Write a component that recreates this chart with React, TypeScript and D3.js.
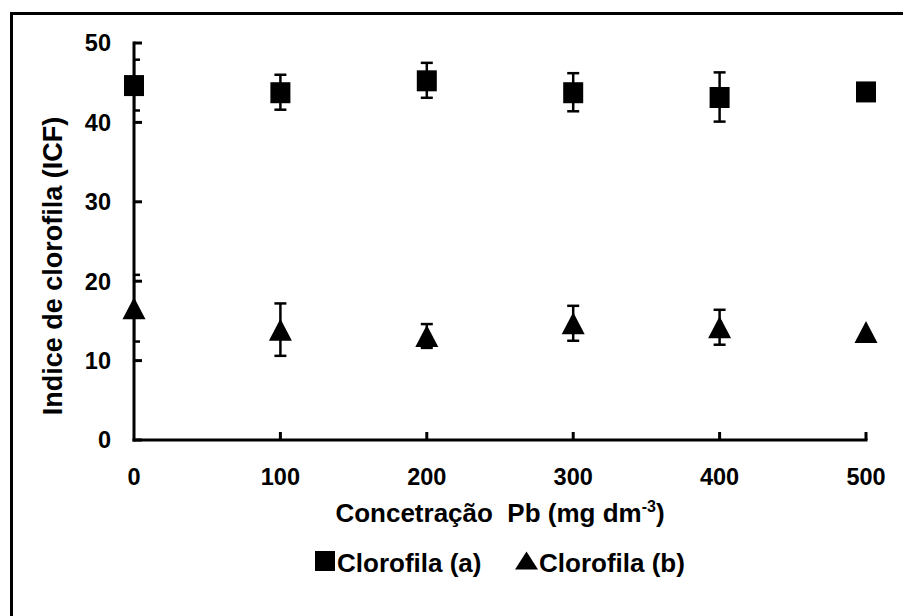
import * as d3 from "d3";
import React from "react";

// concentrations of Pb (mg dm-3)
const doses = [0, 100, 200, 300, 400, 500];
// chlorophyll index, means and error
const clorofilaA = [44.7, 43.8, 45.3, 43.8, 43.2, 43.9];
const erroA = [3.2, 2.2, 2.2, 2.4, 3.1, 0.8];
const clorofilaB = [16.6, 13.9, 13.1, 14.7, 14.2, 13.6];
const erroB = [4.2, 3.3, 1.5, 2.2, 2.2, 0];
const yTicks = [0, 10, 20, 30, 40, 50];
const xTicks = [0, 100, 200, 300, 400, 500];

const W = 903;
const H = 616;
const font = "'Liberation Sans', Arial, sans-serif";

const App = () => {
  const x = d3.scaleLinear().domain([0, 500]).range([134, 866]);
  const y = d3.scaleLinear().domain([0, 50]).range([440, 43]);
  const sq = 20;

  const triPath = (cx: number, cy: number, w: number, h: number) =>
    `M${cx},${cy - h / 2}L${cx + w / 2},${cy + h / 2}L${cx - w / 2},${cy + h / 2}Z`;

  const errBars = (vals: number[], errs: number[], key: string) =>
    vals.map((v, i) => {
      if (!errs[i]) return null;
      const cx = x(doses[i]);
      const top = y(v + errs[i]);
      const bot = y(v - errs[i]);
      return (
        <g key={key + i} stroke="#000" strokeWidth={2.5}>
          <line x1={cx} x2={cx} y1={top} y2={bot} />
          <line x1={cx - 6} x2={cx + 6} y1={top} y2={top} />
          <line x1={cx - 6} x2={cx + 6} y1={bot} y2={bot} />
        </g>
      );
    });

  return (
    <svg
      width={W}
      height={H}
      style={{ position: "absolute", left: 0, top: 0, background: "#fff" }}
      fontFamily={font}
      fontWeight="bold"
    >
      <defs>
        <clipPath id="plot">
          <rect x={x(0)} y={0} width={W} height={y(0)} />
        </clipPath>
      </defs>
      {/* outer frame (only left and top visible) */}
      <path d={`M11.5,${H + 10}V13.5H${W + 10}`} fill="none" stroke="#000" strokeWidth={3} />

      {/* error bars */}
      <g clipPath="url(#plot)">
        {errBars(clorofilaA, erroA, "a")}
        {errBars(clorofilaB, erroB, "b")}
      </g>

      {/* axes */}
      <g stroke="#000" strokeWidth={3}>
        <line x1={x(0)} x2={x(0)} y1={y(50) - 1.5} y2={y(0) + 1.5} />
        <line x1={x(0) - 1.5} x2={x(500) + 1.5} y1={y(0)} y2={y(0)} />
        {yTicks.map((t) => (
          <line key={"yt" + t} x1={x(0)} x2={x(0) + 8} y1={y(t)} y2={y(t)} />
        ))}
        {xTicks.slice(1).map((t) => (
          <line key={"xt" + t} x1={x(t)} x2={x(t)} y1={y(0)} y2={y(0) - 8} />
        ))}
      </g>
      {yTicks.map((t) => (
        <text key={"yl" + t} x={111} y={y(t)} dy="0.36em" textAnchor="end" fontSize={23.5}>
          {t}
        </text>
      ))}
      {xTicks.map((t) => (
        <text key={"xl" + t} x={x(t)} y={485} textAnchor="middle" fontSize={23.5}>
          {t}
        </text>
      ))}

      {/* markers */}
      {clorofilaA.map((v, i) => (
        <rect key={"ma" + i} x={x(doses[i]) - sq / 2} y={y(v) - sq / 2} width={sq} height={sq + 1} fill="#000" />
      ))}
      {clorofilaB.map((v, i) => (
        <path key={"mb" + i} d={triPath(x(doses[i]), y(v), 23, 22)} fill="#000" />
      ))}

      {/* axis titles */}
      <text x={500} y={522} textAnchor="middle" fontSize={26}>
        {"Concetração\u00A0 Pb (mg dm"}
        <tspan dy={-10} fontSize={16}>-3</tspan>
        <tspan dy={10}>)</tspan>
      </text>
      <text transform={`translate(62,${266}) rotate(-90)`} textAnchor="middle" fontSize={27}>
        Indice de clorofila (ICF)
      </text>

      {/* legend */}
      <rect x={315} y={551} width={sq} height={sq} fill="#000" />
      <text x={337} y={572} fontSize={26}>Clorofila (a)</text>
      <path d={triPath(526.5, 560.5, 23, 18)} fill="#000" />
      <text x={539} y={572} fontSize={26}>Clorofila (b)</text>
    </svg>
  );
};

export default App;
